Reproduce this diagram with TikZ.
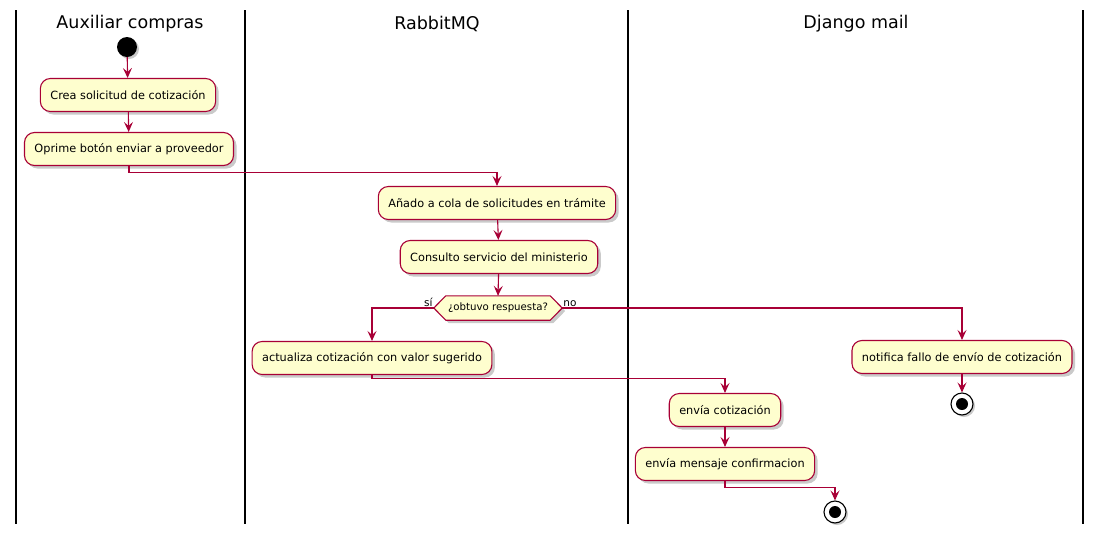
\documentclass[tikz,border=0pt]{standalone}
\usepackage{fontspec}
\setmainfont{DejaVu Sans}
\usetikzlibrary{arrows.meta,shadows,calc}
\pgfdeclarelayer{background}
\pgfsetlayers{background,main}
\definecolor{boxfill}{HTML}{FEFECE}
\definecolor{boxline}{HTML}{A80036}
\tikzset{
  act/.style={draw=boxline, fill=boxfill, line width=1.1pt, rounded corners=10pt,
    minimum height=33pt, inner xsep=10pt, font=\fontsize{11.3}{13}\selectfont,
    drop shadow={shadow xshift=3pt, shadow yshift=-3pt, opacity=0.35, fill=black!60}},
  arr/.style={draw=boxline, line width=1.1pt, -{Stealth[length=10pt,width=9pt,inset=4pt]}},
  lane/.style={draw=black, line width=1.8pt},
  title/.style={font=\fontsize{17.5}{20}\selectfont},
  lbl/.style={font=\fontsize{10.5}{12}\selectfont, inner sep=1pt},
  startnode/.style={circle, fill=black, minimum size=20pt, inner sep=0pt,
    drop shadow={shadow xshift=2pt, shadow yshift=-2pt, opacity=0.35, fill=black!60}},
  endnode/.style={circle, draw=black, fill=white, line width=1.1pt, minimum size=22pt, inner sep=0pt,
    drop shadow={shadow xshift=2pt, shadow yshift=-2pt, opacity=0.35, fill=black!60}},
}
\begin{document}
\begin{tikzpicture}[x=1pt,y=-1pt]
\useasboundingbox (0,0) rectangle (1101,539);
% lanes
\draw[lane] (16,10) -- (16,524);
\draw[lane] (245,10) -- (245,524);
\draw[lane] (628,10) -- (628,524);
\draw[lane] (1083,10) -- (1083,524);
\node[title] (t1) at (130,24) {Auxiliar compras};
\node[title] (t2) at (437,24) {RabbitMQ};
\node[title] (t3) at (856,24) {Django mail};
% nodes
\node[startnode] (s) at (127,47) {};
\node[act] (c1) at (128,95) {Crea solicitud de cotización};
\node[act] (c2) at (129,149) {Oprime botón enviar a proveedor};
\node[act] (c3) at (497,203) {Añado a cola de solicitudes en trámite};
\node[act] (c4) at (499,257) {Consulto servicio del ministerio};
\node[minimum width=128pt, minimum height=24pt, inner sep=0pt, font=\fontsize{10.2}{12}\selectfont] (d) at (498,308) {¿obtuvo respuesta?};
\begin{pgfonlayer}{background}
\fill[black!60, opacity=0.35] ([shift={(3pt,-3pt)}]d.west) -- ([shift={(15pt,-3pt)}]d.north west) -- ([shift={(-9pt,-3pt)}]d.north east) -- ([shift={(3pt,-3pt)}]d.east) -- ([shift={(-9pt,-3pt)}]d.south east) -- ([shift={(15pt,-3pt)}]d.south west) -- cycle;
\draw[draw=boxline, fill=boxfill, line width=1.1pt] (d.west) -- ([xshift=12pt]d.north west) -- ([xshift=-12pt]d.north east) -- (d.east) -- ([xshift=-12pt]d.south east) -- ([xshift=12pt]d.south west) -- cycle;
\end{pgfonlayer}
\node[act] (c5) at (372,358) {actualiza cotización con valor sugerido};
\node[act] (c6) at (962,357) {notifica fallo de envío de cotización};
\node[endnode] (e1) at (962,404) {};
\fill[black] (e1.center) circle (6pt);
\node[act] (c7) at (725,410) {envía cotización};
\node[act] (c8) at (725,464) {envía mensaje confirmacion};
\node[endnode] (e2) at (835,512) {};
\fill[black] (e2.center) circle (6pt);
% labels
\node[lbl, anchor=south east] (ls) at (d.west) {sí};
\node[lbl, anchor=south west] (ln) at (d.east) {no};
% connectors
\draw[arr] (s) -- (c1);
\draw[arr] (c1) -- (c2);
\draw[arr] (c2.south) -- ++(0,6) -| (c3.north);
\draw[arr] (c3) -- (c4);
\draw[arr] (c4) -- (d.north);
\draw[arr] (d.west) -| (c5.north);
\draw[arr] (d.east) -| (c6.north);
\draw[arr] (c6) -- (e1);
\draw[arr] (c5.south) -- ++(0,3) -| (c7.north);
\draw[arr] (c7) -- (c8);
\draw[arr] (c8.south) -- ++(0,6) -| (e2.north);
\end{tikzpicture}
\end{document}
